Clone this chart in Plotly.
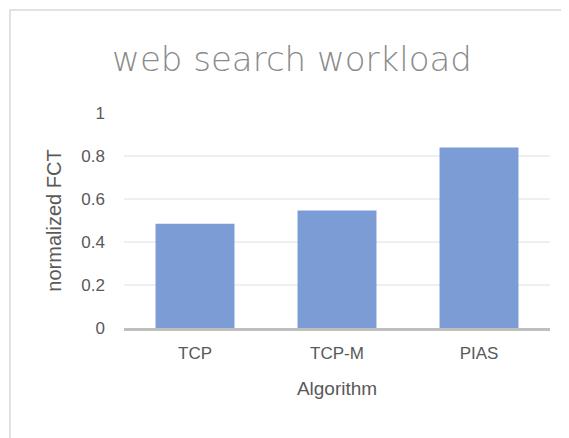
import plotly.graph_objects as go

categories = ["TCP", "TCP-M", "PIAS"]
values = [0.485, 0.546, 0.839]
y_tick_vals = [0, 0.2, 0.4, 0.6, 0.8, 1]
y_tick_text = ["0", "0.2", "0.4", "0.6", "0.8", "1"]

# page body adds an 8px offset; figure coordinates below are page coords minus 8
W, H = 561, 430
L, R, T, B = 116, 19, 105, 110
pw, ph = W - L - R, H - T - B

fig = go.Figure()
fig.add_trace(go.Bar(x=categories, y=values, marker=dict(color="rgb(124,156,214)", line=dict(width=0))))

fig.update_layout(
    width=W, height=H,
    margin=dict(l=L, r=R, t=T, b=B, pad=0),
    paper_bgcolor="white", plot_bgcolor="white",
    bargap=0.444,
    showlegend=False,
    font=dict(family="Liberation Sans, Arial, sans-serif", color="#595959"),
    title=dict(text="web search workload", x=284 / W, xref="container", xanchor="center",
               y=1 - 51 / H, yref="container", yanchor="middle",
               font=dict(size=34, color="#8a8a8a", family="DejaVu Sans, sans-serif", weight=200)),
    xaxis=dict(showline=True, linecolor="#bfbfbf", linewidth=2.5, showgrid=False,
               ticks="", tickfont=dict(size=17, color="#595959"), ticklabelstandoff=8,
               title=dict(text="Algorithm", font=dict(size=19, color="#595959"), standoff=20)),
    yaxis=dict(range=[0, 1], tickvals=y_tick_vals, ticktext=y_tick_text, showline=False,
               gridcolor="#efefef", gridwidth=2, zeroline=False, ticks="",
               tickfont=dict(size=17, color="#595959"), ticklabelstandoff=18,
               title=dict(text="normalized FCT", font=dict(size=20, color="#595959"), standoff=14)),
    shapes=[dict(type="rect", xref="paper", yref="paper",
                 x0=(2 - L) / pw, x1=(W + 10 - L) / pw,
                 y0=-(B + 10) / ph, y1=(H - 2 - B) / ph,
                 line=dict(color="#d9d9d9", width=1.5), fillcolor="rgba(0,0,0,0)", layer="below")],
)

fig.write_html("out.html")
